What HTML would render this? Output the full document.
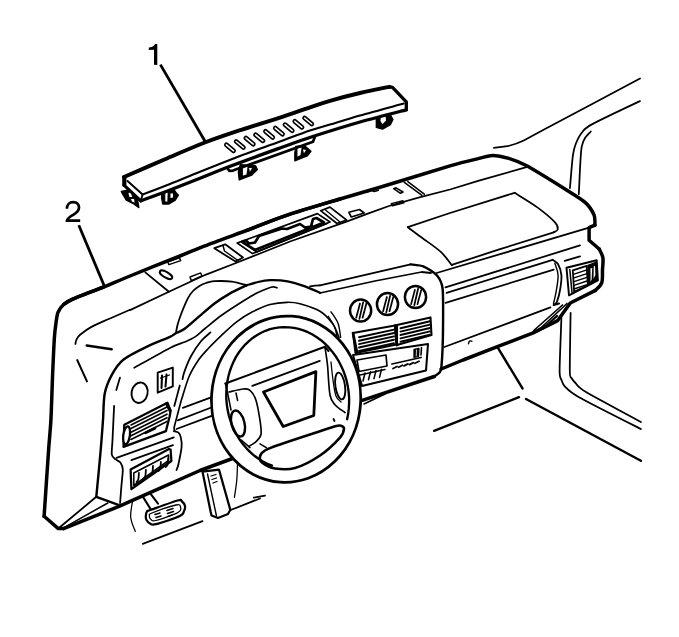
<!DOCTYPE html>
<html><head><meta charset="utf-8"><title>Instrument panel trim</title>
<style>
html,body{margin:0;padding:0;background:#fff;}
body{width:679px;height:637px;overflow:hidden;font-family:"Liberation Sans",sans-serif;}
svg{display:block;}
text{font-family:"Liberation Sans",sans-serif;}
</style></head><body>
<svg width="679" height="637" viewBox="0 0 679 637">
<rect x="0" y="0" width="679" height="637" fill="#fff"/>
<path d="M157.3,44 L155,44 C154.2,46 151.5,47.4 148.8,47.6 L148.8,50.1 L154,49.7 L154,64.7 L157.3,64.9 Z" fill="#000"/>
<path d="M66.9,208.8 C66.9,204.6 69.5,202.1 73.2,202.1 C77,202.1 79,204.6 79,207.6 C79,211 76.6,212.8 73.6,214.6 C70,216.8 67.3,218.2 67,220.7 L80.2,220.7" fill="none" stroke="#000" stroke-width="2.7" stroke-linejoin="miter"/>
<line x1="160.4" y1="64.6" x2="205.9" y2="142.7" stroke="#000" stroke-width="2.8" stroke-linecap="butt"/>
<line x1="78.8" y1="225.2" x2="104.1" y2="285.5" stroke="#000" stroke-width="2.8" stroke-linecap="butt"/>
<path d="M121.3,191.4 L127.6,190.2 L130.7,189.5 L137,196.4 L138.9,207.7 L133.8,204 L126.3,200.2 L122.5,193.9 Z" fill="#000" stroke="#000" stroke-width="1.28" stroke-linejoin="round" stroke-linecap="round"/>
<path d="M128.5,193 L131,192.5 L132,197 L129.5,197 Z" fill="#fff" stroke="#fff" stroke-width="0.1" stroke-linejoin="round" stroke-linecap="round"/>
<path d="M131,199 L134,199 L134.5,202.5 L132,201.5 Z" fill="#fff" stroke="#fff" stroke-width="0.1" stroke-linejoin="round" stroke-linecap="round"/>
<path d="M162.1,191.4 L165.3,190.2 L174,189.5 L176.6,193.3 L178.4,195.2 L175.3,200.2 L169,204 L162.7,204 L161.5,197.7 Z" fill="#000" stroke="#000" stroke-width="1.28" stroke-linejoin="round" stroke-linecap="round"/>
<path d="M165.3,192.7 L167.6,192.5 L167.3,201.5 L165.3,201.5 Z" fill="#fff" stroke="#fff" stroke-width="0.1" stroke-linejoin="round" stroke-linecap="round"/>
<path d="M170.5,193.5 L173,193.5 L173,197.5 L170.5,198 Z" fill="#fff" stroke="#fff" stroke-width="0.1" stroke-linejoin="round" stroke-linecap="round"/>
<path d="M240.2,164.7 L255.5,165.6 L257.4,169.5 L251.7,175.2 L239.2,180 L238.3,172.3 Z" fill="#000" stroke="#000" stroke-width="1.28" stroke-linejoin="round" stroke-linecap="round"/>
<path d="M243,166.5 L247.5,166.5 L246.5,174.5 L243,175.5 Z" fill="#fff" stroke="#fff" stroke-width="0.1" stroke-linejoin="round" stroke-linecap="round"/>
<path d="M249,168 L252,168 L250,171.5 Z" fill="#fff" stroke="#fff" stroke-width="0.1" stroke-linejoin="round" stroke-linecap="round"/>
<path d="M295.7,146.5 L304.3,145.5 L311,151.3 L307.2,156 L294.8,160.8 L294.8,153.2 Z" fill="#000" stroke="#000" stroke-width="1.28" stroke-linejoin="round" stroke-linecap="round"/>
<path d="M297.5,148 L301.5,147.5 L300.5,155 L297.5,156.5 Z" fill="#fff" stroke="#fff" stroke-width="0.1" stroke-linejoin="round" stroke-linecap="round"/>
<path d="M303,149.5 L306,150 L304,153 Z" fill="#fff" stroke="#fff" stroke-width="0.1" stroke-linejoin="round" stroke-linecap="round"/>
<path d="M376.3,115 L379.8,114.2 L389.5,113.3 L393,119.5 L390.4,124.8 L382.5,129.2 L376.3,127.4 Z" fill="#000" stroke="#000" stroke-width="1.28" stroke-linejoin="round" stroke-linecap="round"/>
<path d="M381,116 L385.5,115.5 L386,120.5 L382.5,124 L380.5,121 Z" fill="#fff" stroke="#fff" stroke-width="0.1" stroke-linejoin="round" stroke-linecap="round"/>
<path d="M124,177 L165,159.3 L205.5,142.3 L242,129.6 L280,117.7 L310,107.3 L330,100.8 L360,93 L389.5,86.8 L406.3,101.8 L406.3,109.8 L360,122 L313.5,136.3 L280,148 L226.8,167.5 L200,178.3 L170,190 L140.8,200.8 L124,185.1 Z" fill="#fff" stroke="#fff" stroke-width="0.1" stroke-linejoin="round" stroke-linecap="round"/>
<path d="M226.8,167.5 L229.5,171 L233,170.6 L313,141.7 L315,136.5" fill="none" stroke="#000" stroke-width="2.69" stroke-linejoin="round" stroke-linecap="round"/>
<path d="M124,177 C130.8,174.1 151.4,165.1 165,159.3 C178.6,153.5 192.7,147.2 205.5,142.3 C218.3,137.4 229.6,133.7 242,129.6 C254.4,125.5 268.7,121.4 280,117.7 C291.3,114 301.7,110.1 310,107.3 C318.3,104.5 321.7,103.2 330,100.8 C338.3,98.4 350.1,95.3 360,93 C369.9,90.7 384.6,87.8 389.5,86.8" fill="none" stroke="#000" stroke-width="3.9" stroke-linejoin="round" stroke-linecap="round"/>
<path d="M389.5,86.8 L392.5,87.3 L406.3,101.8 L406.3,109.8" fill="none" stroke="#000" stroke-width="3.3" stroke-linejoin="round" stroke-linecap="round"/>
<path d="M406.3,109.8 C398.6,111.8 375.5,117.6 360,122 C344.5,126.4 326.8,132 313.5,136.3 C300.2,140.6 294.4,142.8 280,148 C265.6,153.2 240.1,162.4 226.8,167.5 C213.5,172.6 209.5,174.6 200,178.3 C190.5,182.1 179.9,186.2 170,190 C160.1,193.8 145.7,199 140.8,200.8" fill="none" stroke="#000" stroke-width="3.3" stroke-linejoin="round" stroke-linecap="round"/>
<path d="M403.7,103.6 C396.4,105.6 372.3,112 360,115.5 C347.7,119 338.3,122 330,124.5 C321.7,127 318.3,127.7 310,130.5 C301.7,133.3 291.7,137.2 280,141.5 C268.3,145.8 253.3,150.9 240,156 C226.7,161.1 211.7,167.1 200,171.8 C188.3,176.5 179.6,180.2 170,184 C160.4,187.8 147.2,192.8 142.6,194.5" fill="none" stroke="#000" stroke-width="2.05" stroke-linejoin="round" stroke-linecap="round"/>
<path d="M124.3,177 L124.3,185.1" fill="none" stroke="#000" stroke-width="4.2" stroke-linejoin="round" stroke-linecap="round"/>
<path d="M124,185.1 L140.8,200.8" fill="none" stroke="#000" stroke-width="3.2" stroke-linejoin="round" stroke-linecap="round"/>
<path d="M127.5,181 L142.6,194.5 L140.8,200.8" fill="none" stroke="#000" stroke-width="1.92" stroke-linejoin="round" stroke-linecap="round"/>
<line x1="226.4" y1="144.8" x2="233.6" y2="150.8" stroke="#000" stroke-width="4.8" stroke-linecap="round"/>
<line x1="226.4" y1="144.8" x2="233.6" y2="150.8" stroke="#fff" stroke-width="1.5" stroke-linecap="round"/>
<line x1="236.2" y1="141.5" x2="243.4" y2="147.5" stroke="#000" stroke-width="4.8" stroke-linecap="round"/>
<line x1="236.2" y1="141.5" x2="243.4" y2="147.5" stroke="#fff" stroke-width="1.5" stroke-linecap="round"/>
<line x1="246" y1="138.1" x2="253.2" y2="144.1" stroke="#000" stroke-width="4.8" stroke-linecap="round"/>
<line x1="246" y1="138.1" x2="253.2" y2="144.1" stroke="#fff" stroke-width="1.5" stroke-linecap="round"/>
<line x1="255.7" y1="134.8" x2="262.9" y2="140.8" stroke="#000" stroke-width="4.8" stroke-linecap="round"/>
<line x1="255.7" y1="134.8" x2="262.9" y2="140.8" stroke="#fff" stroke-width="1.5" stroke-linecap="round"/>
<line x1="265.5" y1="131.4" x2="272.7" y2="137.4" stroke="#000" stroke-width="4.8" stroke-linecap="round"/>
<line x1="265.5" y1="131.4" x2="272.7" y2="137.4" stroke="#fff" stroke-width="1.5" stroke-linecap="round"/>
<line x1="275.3" y1="128.1" x2="282.5" y2="134.1" stroke="#000" stroke-width="4.8" stroke-linecap="round"/>
<line x1="275.3" y1="128.1" x2="282.5" y2="134.1" stroke="#fff" stroke-width="1.5" stroke-linecap="round"/>
<line x1="285" y1="124.7" x2="292.2" y2="130.7" stroke="#000" stroke-width="4.8" stroke-linecap="round"/>
<line x1="285" y1="124.7" x2="292.2" y2="130.7" stroke="#fff" stroke-width="1.5" stroke-linecap="round"/>
<line x1="294.8" y1="121.3" x2="302" y2="127.3" stroke="#000" stroke-width="4.8" stroke-linecap="round"/>
<line x1="294.8" y1="121.3" x2="302" y2="127.3" stroke="#fff" stroke-width="1.5" stroke-linecap="round"/>
<line x1="304.6" y1="118" x2="311.8" y2="124" stroke="#000" stroke-width="4.8" stroke-linecap="round"/>
<line x1="304.6" y1="118" x2="311.8" y2="124" stroke="#fff" stroke-width="1.5" stroke-linecap="round"/>
<path d="M44.1,516.3 L58.3,528.6 L63.6,528.6" fill="none" stroke="#000" stroke-width="3.5" stroke-linejoin="round" stroke-linecap="round"/>
<path d="M44.1,516.3 C44.7,507.5 47.7,462.8 48.6,450 C49.5,437.2 50.3,430.7 50.9,420 C51.5,409.3 52.3,380.8 52.8,370 C53.3,359.2 53.9,345.1 54.3,339 C54.7,332.9 55.3,327.7 55.8,324.2 C56.3,320.7 56.9,315.1 58,312.4 C59.1,309.7 61.9,306.1 63.9,304.3 C65.9,302.5 67.4,301.4 72.7,299.1 C78,296.8 99.8,288.4 104,286.8" fill="none" stroke="#000" stroke-width="3.5" stroke-linejoin="round" stroke-linecap="round"/>
<path d="M63.9,304.3 C65.1,303.6 67.4,301.4 72.7,299.1 C78,296.8 96.4,289.9 104,286.8 C111.6,283.7 119.9,280.1 130,276 C140.1,271.9 170,260 180,256 C190,252 196,249.3 205,245.8 C214,242.3 236.5,234.2 247.8,230 C259.1,225.8 277.7,218.3 290,214.2 C302.3,210.1 333.3,201 340,199" fill="none" stroke="#000" stroke-width="3.5" stroke-linejoin="round" stroke-linecap="round"/>
<path d="M247.8,230 C253.4,227.9 277.7,218.3 290,214.2 C302.3,210.1 328,202.6 340,199 C352,195.4 365.3,191.7 380,187.3 C394.7,182.9 436.8,169.8 450,165.9 C463.2,162 473.3,159.8 479,158.4 C484.7,157 488.4,155.4 492.4,155.4 C496.4,155.4 504.2,157 508.8,158.4 C513.4,159.8 519,161.6 526.7,165.8 C534.4,170 558.7,185.1 566.5,190 C574.3,194.9 581.7,199.3 585.4,202.6 C589.1,205.9 592.8,212.1 594.1,215.1 C595.4,218.1 594.8,223.8 594.9,225.1" fill="none" stroke="#000" stroke-width="3.5" stroke-linejoin="round" stroke-linecap="round"/>
<path d="M594.9,225.1 L589.1,227.7 L589.1,240.2 L599.2,249" fill="none" stroke="#000" stroke-width="3.5" stroke-linejoin="round" stroke-linecap="round"/>
<path d="M599.2,249 C599.8,250.5 602.4,254.3 602.9,257.8 C603.4,261.3 602.7,265.8 602.5,270 C602.3,274.2 602.9,279.5 601.7,282.9 C600.5,286.3 596.5,289.1 595.4,290.4" fill="none" stroke="#000" stroke-width="3.5" stroke-linejoin="round" stroke-linecap="round"/>
<path d="M595.4,290.4 L570.3,303 L557.7,320.6 L532.6,333.1 L500,345.7 L463,360 L441.2,369" fill="none" stroke="#000" stroke-width="3.5" stroke-linejoin="round" stroke-linecap="round"/>
<path d="M63.6,528.6 L118.4,506.6 L150,492.6 L200,470.5 L232.5,458.5" fill="none" stroke="#000" stroke-width="3.5" stroke-linejoin="round" stroke-linecap="round"/>
<path d="M130,310.1 L168.9,291.7 L205.4,274.8 L236,263 L290,241.5 L346.5,221.7 L367.8,213.7 L389,206 L418.4,197.7 L450,189.5 L479,180.7 L528.2,166.7" fill="none" stroke="#000" stroke-width="1.77" stroke-linejoin="round" stroke-linecap="round"/>
<path d="M130,309.8 C126.7,311.2 116.3,315.7 110,318.5 C103.7,321.3 96.9,323.9 91.9,326.6 C86.9,329.3 82.7,332.5 80.1,334.7 C77.5,336.9 77.2,338.2 76.4,339.8 C75.6,341.4 75.6,343.3 75.4,344" fill="none" stroke="#000" stroke-width="1.77" stroke-linejoin="round" stroke-linecap="round"/>
<path d="M145.3,272.4 L168.9,291.7" fill="none" stroke="#000" stroke-width="1.77" stroke-linejoin="round" stroke-linecap="round"/>
<ellipse cx="166" cy="274.8" rx="7" ry="2.8" transform="rotate(30 166 274.8)" fill="none" stroke="#000" stroke-width="2.0"/>
<path d="M167.7,261.8 L179.5,257.8 L180.7,260.6 L168.9,264.6 Z" fill="none" stroke="#000" stroke-width="1.41" stroke-linejoin="round" stroke-linecap="round"/>
<path d="M190,277 L200.7,272.9 L201.9,276 L191.3,280.7 Z" fill="none" stroke="#000" stroke-width="1.41" stroke-linejoin="round" stroke-linecap="round"/>
<path d="M214.3,248.2 L225.2,244.3 L243,257.5 L235.5,261.6 Z" fill="none" stroke="#000" stroke-width="1.79" stroke-linejoin="round" stroke-linecap="round"/>
<path d="M223,245.5 L224.5,251 L238,260.5" fill="none" stroke="#000" stroke-width="1.41" stroke-linejoin="round" stroke-linecap="round"/>
<path d="M237.2,243 L317.4,213.6 L330,222 L252.5,253.6 Z" fill="none" stroke="#000" stroke-width="1.66" stroke-linejoin="round" stroke-linecap="round"/>
<path d="M242,241.8 L246,240.5 L249,243.5 L255,242.5 L259,236 L282,228.5 L287,229 L300,224 L305,227.5 L311,226.5 L313,219 L316.5,218 L324,222.5 L254.9,250 Z" fill="none" stroke="#000" stroke-width="2.69" stroke-linejoin="round" stroke-linecap="round"/>
<path d="M250,246.5 L256.5,252 L327,223.5" fill="none" stroke="#000" stroke-width="1.54" stroke-linejoin="round" stroke-linecap="round"/>
<path d="M320.6,210.7 L330,207.1 L346.5,220 L337,223.5 Z" fill="none" stroke="#000" stroke-width="1.66" stroke-linejoin="round" stroke-linecap="round"/>
<path d="M325.5,210 L340,222" fill="none" stroke="#000" stroke-width="1.28" stroke-linejoin="round" stroke-linecap="round"/>
<path d="M348.9,212.3 L359.5,209.5 L364.2,213 L351.3,217 Z" fill="none" stroke="#000" stroke-width="1.66" stroke-linejoin="round" stroke-linecap="round"/>
<path d="M367.8,191.8 C368.3,191.5 370,190.1 371,190 C372,189.9 372.8,191.5 374,191.5 C375.2,191.5 377.7,190.4 378.4,190.2" fill="none" stroke="#000" stroke-width="1.54" stroke-linejoin="round" stroke-linecap="round"/>
<path d="M393.7,188.7 L396,187.8 L403,192 L400.5,193.3 Z" fill="none" stroke="#000" stroke-width="1.54" stroke-linejoin="round" stroke-linecap="round"/>
<path d="M391.3,203.6 L403,200.8 L404,202.8 L392.5,205.8 Z" fill="none" stroke="#000" stroke-width="1.41" stroke-linejoin="round" stroke-linecap="round"/>
<path d="M404.3,182.4 L422,195.3" fill="none" stroke="#000" stroke-width="1.54" stroke-linejoin="round" stroke-linecap="round"/>
<path d="M407.8,181.7 L424.3,194.2" fill="none" stroke="#000" stroke-width="1.54" stroke-linejoin="round" stroke-linecap="round"/>
<path d="M407.8,227.2 C410.2,229 416.5,233.7 422,237.8 C427.5,241.9 435.8,247.3 440.8,251.9 C445.8,256.5 450,263 451.8,265.2" fill="none" stroke="#000" stroke-width="1.77" stroke-linejoin="round" stroke-linecap="round"/>
<path d="M407.8,227.2 L450,213 L514.6,192.8" fill="none" stroke="#000" stroke-width="1.77" stroke-linejoin="round" stroke-linecap="round"/>
<path d="M514.6,192.8 C518.5,195.3 530.9,202.6 537.7,207.6 C544.5,212.6 551.9,218.9 555.2,222.6 C558.5,226.2 558,227.9 557.7,229.5 C557.5,231.1 554.4,231.8 553.7,232.3" fill="none" stroke="#000" stroke-width="1.77" stroke-linejoin="round" stroke-linecap="round"/>
<path d="M451.8,264.8 L500,249.2 L553.7,232.3" fill="none" stroke="#000" stroke-width="1.77" stroke-linejoin="round" stroke-linecap="round"/>
<line x1="589.1" y1="227.7" x2="436.6" y2="273" stroke="#000" stroke-width="1.79" stroke-linecap="round"/>
<path d="M493.9,147.9 C496.3,147.5 505.5,146.6 510,145.5 C514.5,144.4 518.5,143 523.7,140.5 C529,138 527.6,138.3 545,129 C562.4,119.7 625.8,86.1 640,78.5" fill="none" stroke="#000" stroke-width="1.77" stroke-linejoin="round" stroke-linecap="round"/>
<path d="M640,101.1 C632.8,104.5 601,119.4 592.3,124.1 C583.6,128.8 584.5,129.6 582,132.5 C579.5,135.4 577.3,140.1 575.9,143.5 C574.5,146.9 573.8,148.7 572.9,155.4 C572,162.1 570.4,183.3 569.9,188.2" fill="none" stroke="#000" stroke-width="1.77" stroke-linejoin="round" stroke-linecap="round"/>
<path d="M590.8,131.5 C589.9,132.5 586.4,135.8 585,138 C583.6,140.2 582.5,143.1 581.8,146.4 C581.1,149.7 581,152.8 580.5,160 C580,167.2 579.1,189 578.8,194.1" fill="none" stroke="#000" stroke-width="1.77" stroke-linejoin="round" stroke-linecap="round"/>
<path d="M561.4,317.7 C561.2,324.8 559.6,362.4 559.6,370.7 C559.6,379 560.8,377.9 561.5,380 C562.2,382.1 562.7,384.3 565,386.6 C567.3,388.9 568.9,391.5 579,397.2 C589.1,402.9 632.6,424.8 640.9,429" fill="none" stroke="#000" stroke-width="1.77" stroke-linejoin="round" stroke-linecap="round"/>
<path d="M570.6,313 C570.5,320.7 569.7,362 569.8,370.7 C569.9,379.4 570.7,376.4 571.5,378 C572.3,379.6 573.6,381.1 575.5,383 C577.4,384.9 577.3,386.8 586,392 C594.7,397.2 633.6,418 640.9,422" fill="none" stroke="#000" stroke-width="1.77" stroke-linejoin="round" stroke-linecap="round"/>
<line x1="497.8" y1="347.7" x2="522.5" y2="388.4" stroke="#000" stroke-width="2.43" stroke-linecap="round"/>
<line x1="434.1" y1="430.8" x2="519" y2="397.2" stroke="#000" stroke-width="2.43" stroke-linecap="round"/>
<line x1="526" y1="399" x2="640.9" y2="460.8" stroke="#000" stroke-width="2.43" stroke-linecap="round"/>
<line x1="445.5" y1="287.4" x2="580" y2="245.4" stroke="#000" stroke-width="1.77" stroke-linecap="round"/>
<line x1="446.6" y1="292.9" x2="552.6" y2="259.8" stroke="#000" stroke-width="1.77" stroke-linecap="round"/>
<line x1="445.5" y1="302.8" x2="553.7" y2="269.7" stroke="#000" stroke-width="1.77" stroke-linecap="round"/>
<line x1="444.4" y1="347" x2="550.4" y2="307.3" stroke="#000" stroke-width="1.77" stroke-linecap="round"/>
<line x1="564.7" y1="260.9" x2="580" y2="256.4" stroke="#000" stroke-width="1.77" stroke-linecap="round"/>
<path d="M552.6,259.8 C553.5,260.5 556.6,261.6 558.1,264.2 C559.6,266.8 561,271.1 561.4,275.2 C561.8,279.2 561,284.1 560.3,288.5 C559.6,292.9 558.1,298.9 557,301.7 C555.9,304.4 554.2,304.4 553.7,305" fill="none" stroke="#000" stroke-width="1.79" stroke-linejoin="round" stroke-linecap="round"/>
<path d="M554.8,263.1 C555.3,265.1 557.9,270.2 558.1,275.2 C558.3,280.2 556.7,288.2 555.9,292.9 C555.1,297.6 553.9,301.7 553.5,303.5" fill="none" stroke="#000" stroke-width="1.41" stroke-linejoin="round" stroke-linecap="round"/>
<line x1="553.7" y1="305" x2="559" y2="303.5" stroke="#000" stroke-width="2.05" stroke-linecap="round"/>
<path d="M468.5,343.8 C468.7,343.3 468.9,341.4 469.5,341 C470.1,340.6 471.4,341.2 471.8,341.3" fill="none" stroke="#000" stroke-width="1.41" stroke-linejoin="round" stroke-linecap="round"/>
<line x1="533.8" y1="330.5" x2="562.5" y2="305" stroke="#000" stroke-width="1.66" stroke-linecap="round"/>
<line x1="537" y1="331.5" x2="567" y2="303.5" stroke="#000" stroke-width="1.66" stroke-linecap="round"/>
<line x1="543" y1="328.5" x2="557" y2="316" stroke="#000" stroke-width="2.3" stroke-linecap="round"/>
<path d="M566.5,267.8 L596.7,260.3 L597.9,280.4 L569,295.4 Z" fill="none" stroke="#000" stroke-width="1.92" stroke-linejoin="round" stroke-linecap="round"/>
<line x1="569.8" y1="269.5" x2="572" y2="292.5" stroke="#000" stroke-width="1.54" stroke-linecap="round"/>
<path d="M572.8,270.3 L586.6,265.8 L587.9,285.4 L574.1,291.7 Z" fill="none" stroke="#000" stroke-width="1.79" stroke-linejoin="round" stroke-linecap="round"/>
<line x1="574" y1="274.2" x2="587" y2="269.9" stroke="#000" stroke-width="1.41" stroke-linecap="round"/>
<line x1="574" y1="277.9" x2="587" y2="273.6" stroke="#000" stroke-width="1.41" stroke-linecap="round"/>
<line x1="574" y1="281.6" x2="587" y2="277.3" stroke="#000" stroke-width="1.41" stroke-linecap="round"/>
<line x1="574" y1="285.3" x2="587" y2="281" stroke="#000" stroke-width="1.41" stroke-linecap="round"/>
<line x1="574" y1="289" x2="587" y2="284.7" stroke="#000" stroke-width="1.41" stroke-linecap="round"/>
<path d="M588,265.5 L596,262.5 L597,280 L588.8,285 Z" fill="#000" stroke="#000" stroke-width="1.54" stroke-linejoin="round" stroke-linecap="round"/>
<path d="M590.5,268.5 L592.2,268 L591.6,279.5 L590.6,281.5 Z" fill="#fff" stroke="#fff" stroke-width="0.1" stroke-linejoin="round" stroke-linecap="round"/>
<path d="M593.8,266.5 L595,266 L595.3,275 L593.6,278.5 Z" fill="#fff" stroke="#fff" stroke-width="0.1" stroke-linejoin="round" stroke-linecap="round"/>
<path d="M320,285.4 C335.1,281.9 395.5,267.9 410.6,264.4" fill="none" stroke="#000" stroke-width="1.77" stroke-linejoin="round" stroke-linecap="round"/>
<path d="M410.6,264.4 C412.4,264.7 420.3,265.1 423.8,266.6 C427.3,268.1 434.5,272.6 437,275.5 C439.5,278.4 441.8,281.4 442.6,288.7 C443.4,296 443.1,319.7 443,330 C442.9,340.3 442,360.3 441.5,366 C441,371.7 440.5,371.1 439.5,372.5 C438.5,373.9 435,376 434.3,376.5" fill="none" stroke="#000" stroke-width="2.43" stroke-linejoin="round" stroke-linecap="round"/>
<path d="M434.3,376.5 L363,400.2" fill="none" stroke="#000" stroke-width="3.5" stroke-linejoin="round" stroke-linecap="round"/>
<line x1="364" y1="404" x2="385.5" y2="393.7" stroke="#000" stroke-width="1.54" stroke-linecap="round"/>
<path d="M320,293 L375,281 L421.6,272 L431,273" fill="none" stroke="#000" stroke-width="1.77" stroke-linejoin="round" stroke-linecap="round"/>
<ellipse cx="360.6" cy="310.6" rx="10.6" ry="11" transform="rotate(0 360.6 310.6)" fill="#fff" stroke="#000" stroke-width="2.46"/>
<line x1="360" y1="303.5" x2="356.2" y2="317.7" stroke="#000" stroke-width="1.73" stroke-linecap="round"/>
<line x1="363.2" y1="302.3" x2="359.4" y2="318.9" stroke="#000" stroke-width="1.73" stroke-linecap="round"/>
<line x1="366.4" y1="303.5" x2="362.6" y2="317.7" stroke="#000" stroke-width="1.73" stroke-linecap="round"/>
<ellipse cx="387.5" cy="304.1" rx="10.6" ry="11" transform="rotate(0 387.5 304.1)" fill="#fff" stroke="#000" stroke-width="2.46"/>
<line x1="386.9" y1="297" x2="383.1" y2="311.2" stroke="#000" stroke-width="1.73" stroke-linecap="round"/>
<line x1="390.1" y1="295.8" x2="386.3" y2="312.4" stroke="#000" stroke-width="1.73" stroke-linecap="round"/>
<line x1="393.3" y1="297" x2="389.5" y2="311.2" stroke="#000" stroke-width="1.73" stroke-linecap="round"/>
<ellipse cx="415.5" cy="297" rx="10.6" ry="11" transform="rotate(0 415.5 297)" fill="#fff" stroke="#000" stroke-width="2.46"/>
<line x1="414.9" y1="289.9" x2="411.1" y2="304.1" stroke="#000" stroke-width="1.73" stroke-linecap="round"/>
<line x1="418.1" y1="288.7" x2="414.3" y2="305.3" stroke="#000" stroke-width="1.73" stroke-linecap="round"/>
<line x1="421.3" y1="289.9" x2="417.5" y2="304.1" stroke="#000" stroke-width="1.73" stroke-linecap="round"/>
<path d="M353,333 L395,325.5 L396.5,344.5 L355.5,353 Z" fill="none" stroke="#000" stroke-width="2.05" stroke-linejoin="round" stroke-linecap="round"/>
<path d="M397,325 L430.5,317.4 L431.5,335 L397,345 Z" fill="none" stroke="#000" stroke-width="2.05" stroke-linejoin="round" stroke-linecap="round"/>
<line x1="359" y1="337.3" x2="394" y2="329.6" stroke="#000" stroke-width="1.92" stroke-linecap="round"/>
<line x1="400.5" y1="328.2" x2="430" y2="321.2" stroke="#000" stroke-width="1.92" stroke-linecap="round"/>
<line x1="359" y1="340.7" x2="394" y2="333" stroke="#000" stroke-width="1.92" stroke-linecap="round"/>
<line x1="400.5" y1="331.6" x2="430" y2="324.6" stroke="#000" stroke-width="1.92" stroke-linecap="round"/>
<line x1="359" y1="344.1" x2="394" y2="336.4" stroke="#000" stroke-width="1.92" stroke-linecap="round"/>
<line x1="400.5" y1="335" x2="430" y2="328" stroke="#000" stroke-width="1.92" stroke-linecap="round"/>
<line x1="359" y1="347.5" x2="394" y2="339.8" stroke="#000" stroke-width="1.92" stroke-linecap="round"/>
<line x1="400.5" y1="338.4" x2="430" y2="331.4" stroke="#000" stroke-width="1.92" stroke-linecap="round"/>
<line x1="359" y1="350.9" x2="394" y2="343.2" stroke="#000" stroke-width="1.92" stroke-linecap="round"/>
<line x1="400.5" y1="341.8" x2="430" y2="334.8" stroke="#000" stroke-width="1.92" stroke-linecap="round"/>
<path d="M353,333 L357,352.5" fill="none" stroke="#000" stroke-width="2.69" stroke-linejoin="round" stroke-linecap="round"/>
<path d="M395.5,325.5 L396.8,345" fill="none" stroke="#000" stroke-width="2.91" stroke-linejoin="round" stroke-linecap="round"/>
<path d="M353,355 L428,344 L426,370.5 L362,386 Z" fill="none" stroke="#000" stroke-width="2.05" stroke-linejoin="round" stroke-linecap="round"/>
<path d="M357,360 L386,355 L387,366 L359,371.5 Z" fill="none" stroke="#000" stroke-width="1.66" stroke-linejoin="round" stroke-linecap="round"/>
<path d="M360,375 L385,369.5" fill="none" stroke="#000" stroke-width="1.54" stroke-linejoin="round" stroke-linecap="round"/>
<path d="M392,364 L421,357.5" fill="none" stroke="#000" stroke-width="1.79" stroke-linejoin="round" stroke-linecap="round"/>
<line x1="365" y1="373" x2="363" y2="381" stroke="#000" stroke-width="1.54" stroke-linecap="round"/>
<line x1="370.5" y1="371.8" x2="368.5" y2="379.8" stroke="#000" stroke-width="1.54" stroke-linecap="round"/>
<line x1="376" y1="370.6" x2="374" y2="378.6" stroke="#000" stroke-width="1.54" stroke-linecap="round"/>
<line x1="381.5" y1="369.4" x2="379.5" y2="377.4" stroke="#000" stroke-width="1.54" stroke-linecap="round"/>
<line x1="393" y1="368.5" x2="397" y2="366.5" stroke="#000" stroke-width="1.79" stroke-linecap="round"/>
<line x1="398.5" y1="367.2" x2="402.5" y2="365.2" stroke="#000" stroke-width="1.79" stroke-linecap="round"/>
<line x1="404" y1="365.9" x2="408" y2="363.9" stroke="#000" stroke-width="1.79" stroke-linecap="round"/>
<line x1="409.5" y1="364.6" x2="413.5" y2="362.6" stroke="#000" stroke-width="1.79" stroke-linecap="round"/>
<line x1="415" y1="363.3" x2="419" y2="361.3" stroke="#000" stroke-width="1.79" stroke-linecap="round"/>
<path d="M414,349.5 L419,348.5 L418.5,356.5 L414,357.5 Z" fill="#000" stroke="#000" stroke-width="1.28" stroke-linejoin="round" stroke-linecap="round"/>
<line x1="416.5" y1="350" x2="416.2" y2="356" stroke="#fff" stroke-width="0.8" stroke-linecap="round"/>
<line x1="421.5" y1="347.5" x2="421" y2="355" stroke="#000" stroke-width="1.54" stroke-linecap="round"/>
<path d="M175.9,333.2 C176.1,332 176.8,327.6 177.5,325 C178.2,322.4 178.8,320.2 180.3,316.2 C181.8,312.2 185.8,302.4 187.7,298.6 C189.6,294.8 191.2,292.9 193,291 C194.8,289.1 197.6,287.2 199.5,286 C201.4,284.8 203.8,283.7 206,283 C208.2,282.3 210.3,281.4 214.2,281.2 C218.1,281 227,281 231.9,281.6 C236.8,282.2 244.4,284.7 246.6,285.3" fill="none" stroke="#000" stroke-width="1.79" stroke-linejoin="round" stroke-linecap="round"/>
<path d="M246.6,285.3 C248.3,284.8 254.5,282.8 258,282 C261.5,281.2 265.6,280.3 270,280.2 C274.4,280.1 282.4,280.4 287.6,281.3 C292.9,282.2 300.1,284.6 305,286.3 C309.9,288 317.8,291.8 320,292.8" fill="none" stroke="#000" stroke-width="2.3" stroke-linejoin="round" stroke-linecap="round"/>
<path d="M246.6,285.3 C243.9,286.6 233.8,291.3 228.9,294.1 C224,296.9 218.6,300.4 214.2,303.7 C209.8,307 203.9,312.4 199.5,316.2 C195.1,320 188.2,326.2 184.7,328.8 C181.2,331.4 178.1,332 175.9,333.2 C173.7,334.4 174.3,334.9 170,336.9 C165.7,338.9 154.1,343.2 147.1,346.6 C140.1,350 128.9,355.3 123.6,359.5 C118.3,363.7 114.6,369.7 111.8,374.8 C109,379.9 106,386.9 104.7,393.7 C103.4,400.5 103.6,411.6 103,420 C102.4,428.4 101.7,438.5 100.7,450 C99.7,461.5 97,489.8 96.3,496.8" fill="none" stroke="#000" stroke-width="2.43" stroke-linejoin="round" stroke-linecap="round"/>
<path d="M134.2,367.8 C139.6,364.8 162.4,351.8 170,347.9 C177.6,344 180.9,343.6 184.7,342 C188.4,340.4 192,338.9 195,336.9 C198,334.9 200.9,331.8 205,328.5 C209.1,325.2 216,319.3 222,315 C228,310.7 239.5,303.4 244.9,300 C250.3,296.6 253.9,294.4 258,292.5 C262.1,290.6 269.1,287.7 272,287 C274.9,286.3 276.2,287.7 277,287.8" fill="none" stroke="#000" stroke-width="1.66" stroke-linejoin="round" stroke-linecap="round"/>
<path d="M175,431 C174.9,430.5 173.8,430.2 174.1,427.9 C174.4,425.6 176.1,419.9 177.3,415.4 C178.5,410.9 180.2,404 182,398.1 C183.8,392.2 186.8,381.7 189.3,376 C191.8,370.3 195.7,364.1 198.5,360 C201.3,355.9 204.9,352.2 208.3,348.5 C211.8,344.8 217.3,339.4 221.5,335.4 C225.7,331.4 231.7,325.6 236.3,322.1 C241,318.6 247.4,314.4 252.5,311.8 C257.6,309.2 264.8,305.9 270,304.5 C275.2,303.1 282.5,302.4 287,302.3 C291.5,302.2 295.1,302.4 300,303.8 C304.9,305.2 315.1,308.3 320,311.3 C324.9,314.3 329.8,319.9 332.7,323.8 C335.6,327.7 338.1,335.5 339,337.6" fill="none" stroke="#000" stroke-width="1.66" stroke-linejoin="round" stroke-linecap="round"/>
<path d="M331,311.8 C332.2,313.7 336.4,319 338,323.3 C339.6,327.6 340.2,335 340.7,337.4" fill="none" stroke="#000" stroke-width="1.41" stroke-linejoin="round" stroke-linecap="round"/>
<path d="M328.3,316.2 C329.3,318 333.1,323.6 334.5,326.8 C335.9,330.1 336.4,334.2 336.8,335.7" fill="none" stroke="#000" stroke-width="1.28" stroke-linejoin="round" stroke-linecap="round"/>
<path d="M310,286.3 C311.7,286.1 318.3,285.5 320,285.4" fill="none" stroke="#000" stroke-width="1.77" stroke-linejoin="round" stroke-linecap="round"/>
<path d="M96.3,496.8 L118.4,504.8" fill="none" stroke="#000" stroke-width="2.3" stroke-linejoin="round" stroke-linecap="round"/>
<path d="M59.2,527.8 L96.3,496.8" fill="none" stroke="#000" stroke-width="1.79" stroke-linejoin="round" stroke-linecap="round"/>
<path d="M63.6,527.8 L107.8,503" fill="none" stroke="#000" stroke-width="1.54" stroke-linejoin="round" stroke-linecap="round"/>
<line x1="120" y1="377.6" x2="116.3" y2="390" stroke="#000" stroke-width="1.77" stroke-linecap="round"/>
<path d="M114.1,406 C113.9,410.5 112.8,433.5 112.5,440 C112.2,446.5 111.4,452.1 111.8,454.7 C112.2,457.3 114.6,458.4 115.7,459.4 C116.8,460.4 119.5,461.2 120.4,462.5 C121.3,463.8 122.7,466.4 122.8,469.4 C122.9,472.4 121.9,480.5 121.5,485 C121.1,489.5 120.3,500.6 120.1,503" fill="none" stroke="#000" stroke-width="1.79" stroke-linejoin="round" stroke-linecap="round"/>
<path d="M116.5,457.8 L173.8,437.4" fill="none" stroke="#000" stroke-width="1.79" stroke-linejoin="round" stroke-linecap="round"/>
<path d="M173.8,431.1 C174.6,431.4 177.3,431.6 178.5,432.7 C179.7,433.8 180.3,435 180.8,437.4 C181.3,439.8 182,442.4 181.6,446.8 C181.2,451.2 179.3,460.1 178.5,464 C177.7,467.9 176.8,469 176.5,470" fill="none" stroke="#000" stroke-width="1.79" stroke-linejoin="round" stroke-linecap="round"/>
<ellipse cx="139.6" cy="392.7" rx="8" ry="10.3" transform="rotate(12 139.6 392.7)" fill="none" stroke="#000" stroke-width="1.92"/>
<path d="M157.7,372.6 L172.8,367.6 L172.8,386.4 L157.7,392.7 Z" fill="none" stroke="#000" stroke-width="1.92" stroke-linejoin="round" stroke-linecap="round"/>
<line x1="162" y1="375.5" x2="161.5" y2="388" stroke="#000" stroke-width="2.05" stroke-linecap="round"/>
<line x1="166.5" y1="374.5" x2="165.5" y2="386.5" stroke="#000" stroke-width="2.05" stroke-linecap="round"/>
<line x1="160.5" y1="378" x2="169.5" y2="375" stroke="#000" stroke-width="1.28" stroke-linecap="round"/>
<path d="M124.3,424.8 L167.5,402.8 L170.6,410.7 L169.5,417 L165.9,431.1 L123.5,446.8 Z" fill="none" stroke="#000" stroke-width="2.3" stroke-linejoin="round" stroke-linecap="round"/>
<line x1="131" y1="425" x2="167" y2="407" stroke="#000" stroke-width="1.66" stroke-linecap="round"/>
<line x1="131" y1="428.6" x2="167" y2="410.6" stroke="#000" stroke-width="1.66" stroke-linecap="round"/>
<line x1="131" y1="432.2" x2="167" y2="414.2" stroke="#000" stroke-width="1.66" stroke-linecap="round"/>
<line x1="131" y1="435.8" x2="167" y2="417.8" stroke="#000" stroke-width="1.66" stroke-linecap="round"/>
<line x1="131" y1="439.4" x2="167" y2="421.4" stroke="#000" stroke-width="1.66" stroke-linecap="round"/>
<line x1="145.5" y1="432.9" x2="155" y2="428.2" stroke="#000" stroke-width="2.69" stroke-linecap="round"/>
<line x1="166.5" y1="403.5" x2="170" y2="410.5" stroke="#000" stroke-width="3.0" stroke-linecap="round"/>
<ellipse cx="126.6" cy="435.3" rx="3.3" ry="9" transform="rotate(8 126.6 435.3)" fill="#fff" stroke="#000" stroke-width="2.3"/>
<line x1="131.4" y1="460.1" x2="173" y2="445.2" stroke="#000" stroke-width="1.79" stroke-linecap="round"/>
<path d="M130.6,469.6 L169,449 L170.6,449.5 L171.4,461 L131.4,489.2 Z" fill="none" stroke="#000" stroke-width="2.24" stroke-linejoin="round" stroke-linecap="round"/>
<path d="M133.8,473 L168.6,455 L168.6,460.5 L133.8,485.5 Z" fill="none" stroke="#000" stroke-width="1.54" stroke-linejoin="round" stroke-linecap="round"/>
<path d="M138.9,473 C138.8,474.1 138.7,478 138.3,479.5 C137.9,481 136.8,481.6 136.5,482" fill="none" stroke="#000" stroke-width="1.79" stroke-linejoin="round" stroke-linecap="round"/>
<path d="M145.9,469.8 C145.8,470.9 145.7,474.8 145.3,476.3 C144.9,477.8 143.8,478.4 143.5,478.8" fill="none" stroke="#000" stroke-width="1.79" stroke-linejoin="round" stroke-linecap="round"/>
<path d="M153,465.9 C152.9,467 152.8,470.9 152.4,472.4 C152,473.9 150.9,474.5 150.6,474.9" fill="none" stroke="#000" stroke-width="1.79" stroke-linejoin="round" stroke-linecap="round"/>
<path d="M160.9,462 C160.8,463.1 160.7,467 160.3,468.5 C159.9,470 158.8,470.6 158.5,471" fill="none" stroke="#000" stroke-width="1.79" stroke-linejoin="round" stroke-linecap="round"/>
<path d="M168.2,458 C168.1,459.1 168,463 167.6,464.5 C167.2,466 166.1,466.6 165.8,467" fill="none" stroke="#000" stroke-width="1.79" stroke-linejoin="round" stroke-linecap="round"/>
<path d="M210.5,332.4 C208.9,333.9 204.1,337.5 200.8,341.5 C197.5,345.5 193.5,351.5 190.8,356.5 C188.1,361.5 185.9,367.6 184.5,371.4 C183.1,375.2 182.8,377.9 182.5,379.2" fill="none" stroke="#000" stroke-width="1.77" stroke-linejoin="round" stroke-linecap="round"/>
<line x1="179.8" y1="385.5" x2="174.3" y2="405.9" stroke="#000" stroke-width="1.77" stroke-linecap="round"/>
<line x1="182.8" y1="407.8" x2="210.4" y2="397.7" stroke="#000" stroke-width="1.77" stroke-linecap="round"/>
<line x1="177.8" y1="420.3" x2="211.3" y2="407.5" stroke="#000" stroke-width="1.77" stroke-linecap="round"/>
<line x1="176.5" y1="429" x2="213" y2="415.3" stroke="#000" stroke-width="1.77" stroke-linecap="round"/>
<line x1="142.7" y1="496.4" x2="151" y2="509.8" stroke="#000" stroke-width="2.05" stroke-linecap="round"/>
<line x1="151" y1="494.3" x2="158" y2="503.6" stroke="#000" stroke-width="2.05" stroke-linecap="round"/>
<path d="M145.8,516 C145.9,514.6 146.1,512.5 147,511.5 C147.9,510.5 145.9,511.6 151,509.8 C156.1,508 172.5,501.9 177.7,500.5 C182.9,499.1 180.8,500.6 182,501.5 C183.2,502.4 184.7,504.4 185,506 C185.3,507.6 184.9,509.3 184,511 C183.1,512.7 184.5,513.8 179.8,516 C175.1,518.2 161,523 156,524.2 C151,525.5 151.6,524.2 150,523.5 C148.4,522.8 147.2,521.2 146.5,520 C145.8,518.8 145.7,517.4 145.8,516 Z" fill="#fff" stroke="#000" stroke-width="2.24" stroke-linejoin="round" stroke-linecap="round"/>
<path d="M149.5,516 C149.7,514.9 147.6,514.8 152,513 C156.4,511.2 171.2,506 176,505 C180.8,504 180.2,505.8 180.5,507 C180.8,508.2 182.1,510.2 178,512.5 C173.9,514.8 160.5,519.3 156,520.5 C151.5,521.7 152.1,520.2 151,519.5 C149.9,518.8 149.3,517.1 149.5,516 Z" fill="none" stroke="#000" stroke-width="1.28" stroke-linejoin="round" stroke-linecap="round"/>
<line x1="155" y1="514.5" x2="160" y2="513" stroke="#000" stroke-width="1.54" stroke-linecap="round"/>
<line x1="156" y1="517.5" x2="161" y2="516" stroke="#000" stroke-width="1.54" stroke-linecap="round"/>
<line x1="167" y1="510.5" x2="173" y2="508.5" stroke="#000" stroke-width="1.54" stroke-linecap="round"/>
<line x1="167.5" y1="513.5" x2="173.5" y2="511.5" stroke="#000" stroke-width="1.54" stroke-linecap="round"/>
<line x1="168" y1="516.5" x2="172" y2="515" stroke="#000" stroke-width="1.54" stroke-linecap="round"/>
<path d="M202.5,471.6 L219,469.6 L230.3,509.8 L228,514 L218,518 L211.5,515.5 L210.7,512 Z" fill="#fff" stroke="#000" stroke-width="2.24" stroke-linejoin="round" stroke-linecap="round"/>
<line x1="207.5" y1="474" x2="216.5" y2="516" stroke="#000" stroke-width="1.41" stroke-linecap="round"/>
<line x1="211" y1="476" x2="216" y2="474.5" stroke="#000" stroke-width="1.28" stroke-linecap="round"/>
<line x1="212" y1="479.5" x2="216.5" y2="478" stroke="#000" stroke-width="1.28" stroke-linecap="round"/>
<line x1="213" y1="483" x2="217" y2="481.5" stroke="#000" stroke-width="1.28" stroke-linecap="round"/>
<line x1="142.7" y1="543.8" x2="202.5" y2="521.1" stroke="#000" stroke-width="1.79" stroke-linecap="round"/>
<path d="M132.5,501.3 C132.2,504 130.2,512.2 130.7,517.2 C131.1,522.2 134.4,528.9 135.2,531.3" fill="none" stroke="#000" stroke-width="1.28" stroke-linejoin="round" stroke-linecap="round"/>
<line x1="231.3" y1="509.8" x2="260" y2="498.5" stroke="#000" stroke-width="1.77" stroke-linecap="round"/>
<path d="M237.5,462.4 C237.4,465.3 237.3,474.2 236.8,480 C236.3,485.8 234.8,494.5 234.4,497.4" fill="none" stroke="#000" stroke-width="1.28" stroke-linejoin="round" stroke-linecap="round"/>
<line x1="253.8" y1="497.7" x2="265" y2="495.7" stroke="#000" stroke-width="1.77" stroke-linecap="round"/>
<line x1="86.7" y1="345.5" x2="111.7" y2="349.2" stroke="#000" stroke-width="2.43" stroke-linecap="round"/>
<line x1="77.2" y1="360" x2="87" y2="381.5" stroke="#000" stroke-width="1.92" stroke-linecap="round"/>
<ellipse cx="286.1" cy="399.2" rx="74.6" ry="83.2" transform="rotate(4 286.1 399.2)" fill="#fff" stroke="#000" stroke-width="2.8"/>
<path d="M347.1,419.2 L348.2,413.8 L348.8,408.4 L349.1,402.8 L349.1,397.3 L348.6,391.7 L347.8,386.2 L346.6,380.7 L345,375.4 L343.1,370.2 L340.8,365.2 L338.2,360.3 L335.3,355.7 L332.1,351.4 L328.7,347.4 L324.9,343.6 L321,340.2 L316.8,337.2 L312.5,334.5 L308,332.2 L303.4,330.4 L298.7,328.9 L293.9,327.9 L289.1,327.3 L284.3,327.1 L279.5,327.4 L274.7,328.1 L270,329.2 L265.5,330.8 L261.1,332.8 L256.8,335.2 L252.7,337.9 L248.9,341.1 L245.2,344.6 L241.9,348.4 L238.8,352.5 L236,356.9 L233.6,361.6 L231.5,366.5 L229.7,371.5 L228.3,376.8 L227.2,382.2 L226.6,387.6 L226.3,393.2 L226.3,398.7 L226.8,404.3 L227.6,409.8 L228.8,415.3 L230.4,420.6 L232.3,425.8 L234.6,430.8 L237.2,435.7 L240.1,440.3 L243.3,444.6 L246.7,448.6 L250.5,452.4 L254.4,455.8 L258.6,458.8 L262.9,461.5 L267.4,463.8 L272,465.6" fill="none" stroke="#000" stroke-width="2.35" stroke-linejoin="round" stroke-linecap="round"/>
<path d="M225.4,383.5 L325,346.8 L328.5,351" fill="none" stroke="#000" stroke-width="2.05" stroke-linejoin="round" stroke-linecap="round"/>
<path d="M252.3,385.9 L319.8,360.8" fill="none" stroke="#000" stroke-width="1.79" stroke-linejoin="round" stroke-linecap="round"/>
<path d="M263.5,392 L315.9,371.6 L313.8,415.5 L283.2,426.5 Z" fill="none" stroke="#000" stroke-width="2.8" stroke-linejoin="round" stroke-linecap="round"/>
<path d="M229,392 C230.9,391.6 240.2,389.2 243,389 C245.8,388.8 248,388.8 249.7,390.2 C251.4,391.6 254.4,395.7 255.8,399.7 C257.2,403.7 259.3,415.8 260,420.4 C260.7,425 261.5,431.5 261,434.3 C260.5,437.1 258.2,439.6 256.6,441.2 C255,442.8 249.9,445.7 248.9,446.4" fill="none" stroke="#000" stroke-width="1.66" stroke-linejoin="round" stroke-linecap="round"/>
<path d="M225.4,383.5 C225.8,385.4 227.1,390.6 228,395 C228.9,399.4 230.5,407.5 231,410" fill="none" stroke="#000" stroke-width="1.54" stroke-linejoin="round" stroke-linecap="round"/>
<ellipse cx="238" cy="423.5" rx="6.5" ry="13.3" transform="rotate(-14 238 423.5)" fill="none" stroke="#000" stroke-width="2.43"/>
<line x1="241.3" y1="440" x2="250" y2="447.6" stroke="#000" stroke-width="1.54" stroke-linecap="round"/>
<line x1="260" y1="443.8" x2="266.3" y2="447.6" stroke="#000" stroke-width="1.54" stroke-linecap="round"/>
<line x1="236" y1="393" x2="237.6" y2="400.5" stroke="#000" stroke-width="1.54" stroke-linecap="round"/>
<path d="M260,456.4 C260.4,454.5 262,452.3 265,450.5 C268,448.7 273.2,446.9 280,444.5 C286.8,442.1 301.7,437.2 310,434.5 C318.3,431.8 330.6,427.6 335.2,426.3 C339.8,425 339.7,425.4 341,425.8 C342.3,426.2 344.1,427 344,428.8 C343.9,430.6 343.6,433.6 340,437.6 C336.4,441.6 326.8,450.9 320,455.5 C313.2,460.1 301.8,466.1 295,468 C288.2,469.9 279.9,469.2 275,468.5 C270.1,467.8 264.9,464.8 262.6,463 C260.4,461.2 259.6,458.3 260,456.4 Z" fill="none" stroke="#000" stroke-width="2.58" stroke-linejoin="round" stroke-linecap="round"/>
<path d="M325,347.5 C325.4,350.4 326.7,357.1 327.5,365 C328.3,372.9 328.7,388.3 330,395 C331.3,401.7 332.7,402.1 335.2,405 C337.7,407.9 343.4,411.2 345,412.5" fill="none" stroke="#000" stroke-width="1.66" stroke-linejoin="round" stroke-linecap="round"/>
<path d="M331,362 C331.3,365 332.2,374.3 333,380 C333.8,385.7 334.7,392.3 336,396 C337.3,399.7 340.2,401 341,402" fill="none" stroke="#000" stroke-width="1.28" stroke-linejoin="round" stroke-linecap="round"/>
<ellipse cx="340.2" cy="386" rx="4.8" ry="13.5" transform="rotate(-8 340.2 386)" fill="none" stroke="#000" stroke-width="1.92"/>
<line x1="333.5" y1="419" x2="334.5" y2="421" stroke="#000" stroke-width="1.79" stroke-linecap="round"/>
</svg>
</body></html>
